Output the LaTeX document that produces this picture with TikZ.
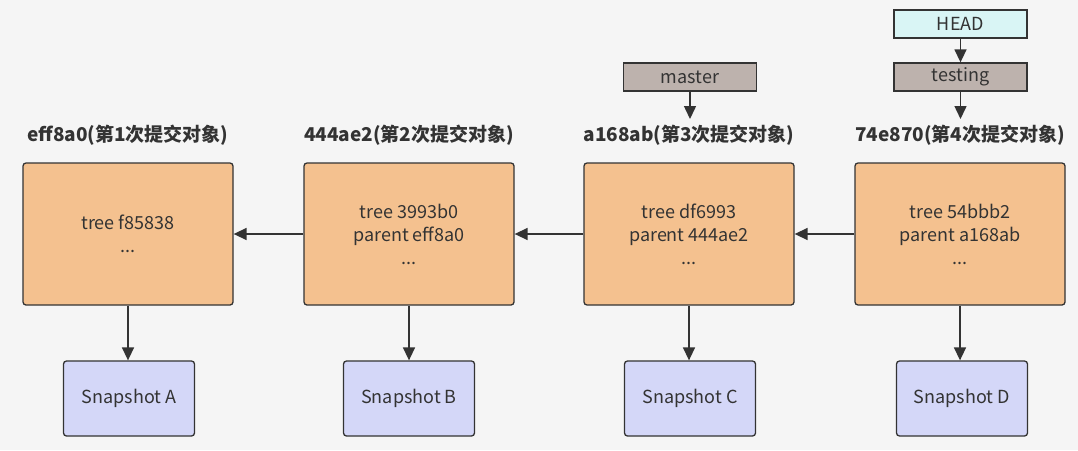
\documentclass[tikz,border=0pt]{standalone}
\usepackage{fontspec}
\setmainfont{Noto Sans CJK SC}
\usetikzlibrary{arrows.meta}
\definecolor{bg}{HTML}{F5F5F5}
\definecolor{commitc}{HTML}{F4C18F}
\definecolor{snapc}{HTML}{D4D7F8}
\definecolor{headc}{HTML}{D9F5F5}
\definecolor{branchc}{HTML}{BDB2AD}
\definecolor{linec}{HTML}{333333}
\definecolor{textc}{HTML}{333333}
\tikzset{
  commitbox/.style={draw=linec, line width=1.3pt, fill=commitc, rounded corners=3pt, minimum width=210pt, minimum height=142pt, align=center, text=textc, font=\fontsize{18}{23}\selectfont, inner sep=0pt},
  snapbox/.style={draw=linec, line width=1.3pt, fill=snapc, rounded corners=3pt, minimum width=131pt, minimum height=75pt, text=textc, font=\fontsize{18}{20}\selectfont, inner sep=0pt},
  branchbox/.style={draw=linec, line width=1.3pt, fill=branchc, minimum width=133pt, minimum height=28pt, text=textc, font=\fontsize{18}{20}\selectfont, inner sep=0pt},
  headbox/.style={branchbox, fill=headc},
  titletext/.style={text=textc, font=\fontsize{19}{20}\selectfont\bfseries, inner sep=0pt, anchor=base},
  conn/.style={draw=linec, line width=1.5pt, -{Triangle[length=13pt,width=12pt]}},
}
\begin{document}
\begin{tikzpicture}[x=1pt,y=-1pt]
\fill[bg] (0,0) rectangle (1078,450);
\useasboundingbox (0,0) rectangle (1078,450);

\node[commitbox] (c1) at (128,234) {tree f85838\\...};
\node[commitbox] (c2) at (409,234) {tree 3993b0\\parent eff8a0\\...};
\node[commitbox] (c3) at (689,234) {tree df6993\\parent 444ae2\\...};
\node[commitbox] (c4) at (960,234) {tree 54bbb2\\parent a168ab\\...};

\node[titletext] (t1) at (128,141) {eff8a0(第1次提交对象)};
\node[titletext] (t2) at (409,141) {444ae2(第2次提交对象)};
\node[titletext] (t3) at (689,141) {a168ab(第3次提交对象)};
\node[titletext] (t4) at (960,141) {74e870(第4次提交对象)};

\node[snapbox] (s1) at (129,398.5) {Snapshot A};
\node[snapbox] (s2) at (409,398.5) {Snapshot B};
\node[snapbox] (s3) at (690,398.5) {Snapshot C};
\node[snapbox] (s4) at (962,398.5) {Snapshot D};

\node[branchbox] (master) at (690,77) {master};
\node[branchbox] (testing) at (960.5,77) {testing};
\node[headbox] (head) at (960.5,24) {HEAD};

\draw[conn] (c2.west) -- (c1.east);
\draw[conn] (c3.west) -- (c2.east);
\draw[conn] (c4.west) -- (c3.east);

\draw[conn] (c1.south) -- (c1.south |- s1.north);
\draw[conn] (c2.south) -- (c2.south |- s2.north);
\draw[conn] (c3.south) -- (c3.south |- s3.north);
\draw[conn] (c4.south) -- (c4.south |- s4.north);

\coordinate (m1) at (690,119);
\coordinate (m2) at (960.5,119);
\draw[conn] (master.south) -- (m1);
\draw[conn] (testing.south) -- (m2);
\draw[conn] (head.south) -- (testing.north);
\end{tikzpicture}
\end{document}
